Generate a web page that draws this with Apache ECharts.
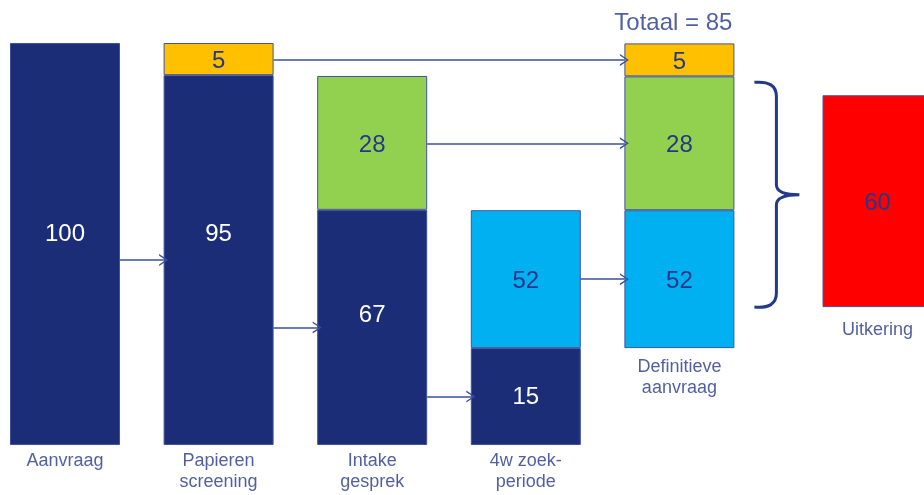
<!DOCTYPE html>
<html>
<head>
<meta charset="utf-8">
<script src="https://cdn.jsdelivr.net/npm/echarts@6/dist/echarts.min.js"></script>
<style>
  html, body { margin: 0; padding: 0; background: #fff; }
  #main { width: 924px; height: 495px; }
</style>
</head>
<body>
<div id="main"></div>
<script>
// kolommen: de eerste vijf staan op gelijke afstand, Uitkering staat apart
var categories = ['Aanvraag', 'Papieren\nscreening', 'Intake\ngesprek', '4w zoek-\nperiode', 'Definitieve\naanvraag', 'Uitkering'];
var slots = [0, 1, 2, 3, 4, 5.29];

// getallen in de blokken
var darkCounts   = [100, 95, 67, 15, null, null];
var lightCounts  = [null, null, null, 52, 52, null];
var greenCounts  = [null, null, 28, null, 28, null];
var orangeCounts = [null, 5, null, null, 5, null];
var redCounts    = [null, null, null, null, null, 60];

// hoogtes zoals getekend (volle kolom = 100)
var baseH   = [0, 0, 0, 0, 24.1, 34.3];
var darkH   = [100, 92, 58.5, 24.1, 0, 0];
var lightH  = [0, 0, 0, 34.3, 34.3, 0];
var greenH  = [0, 0, 33.3, 0, 33.3, 0];
var orangeH = [0, 8, 0, 0, 8.2, 0];
var redH    = [0, 0, 0, 0, 0, 52.7];

// label verschuiving (px) waar het getal niet in het midden staat
var darkLabelShift = [-10, -26, -12, 1, 0, 0];
var nameGap = [6, 6, 6, 6, 8, 12];

var textBlue = '#26378a';
var lineBlue = '#3a4f9c';
var font = 'Liberation Sans, Arial, sans-serif';
var step = 153.6;          // px tussen kolommen
var halfBar = 55 / step;   // halve kolombreedte in slot-eenheden

function segData(h, counts, shift, from, to) {
    var out = [];
    for (var i = from; i < to; i++) {
        var item = { value: h[i] > 0 ? h[i] : '-', count: counts ? counts[i] : null };
        if (shift && shift[i]) item.label = { offset: [0, shift[i]] };
        out.push(item);
    }
    return out;
}

var seriesList = [];
function addSeg(name, h, counts, color, txt, shift) {
    [[0, 5], [5, 6]].forEach(function (part, g) {
        var any = h.slice(part[0], part[1]).some(function (v) { return v > 0; });
        if (!any) return;
        seriesList.push({
            name: name,
            type: 'bar',
            stack: 'kolom' + g,
            xAxisIndex: g,
            yAxisIndex: g,
            barWidth: 110,
            clip: false,
            silent: true,
            data: segData(h, counts, shift, part[0], part[1]),
            itemStyle: color ? { color: color, borderColor: '#40529a', borderWidth: 1 } : { color: 'rgba(0,0,0,0)' },
            label: {
                show: !!color,
                position: 'inside',
                offset: [0, 2],
                color: txt,
                fontSize: 24,
                fontFamily: font,
                formatter: function (p) { return p.data.count == null ? '' : p.data.count; }
            }
        });
    });
}

addSeg('basis', baseH, null, null);
addSeg('donker', darkH, darkCounts, '#1c2d78', '#ffffff', darkLabelShift);
addSeg('lichtblauw', lightH, lightCounts, '#00b0f0', textBlue);
addSeg('groen', greenH, greenCounts, '#92d050', textBlue);
addSeg('oranje', orangeH, orangeCounts, '#ffc000', textBlue);
addSeg('rood', redH, redCounts, '#ff0000', textBlue);

function colTop(i) {
    return baseH[i] + darkH[i] + lightH[i] + greenH[i] + orangeH[i] + redH[i];
}

// midden van een segment, voor de pijlen
function segMid(i, seg) {
    var lo = baseH[i], parts = [['dark', darkH], ['light', lightH], ['green', greenH], ['orange', orangeH], ['red', redH]];
    for (var k = 0; k < parts.length; k++) {
        if (parts[k][0] === seg) return lo + parts[k][1][i] / 2;
        lo += parts[k][1][i];
    }
}

var arrows = [[0, 1, 'dark'], [1, 4, 'orange'], [1, 2, 'dark'], [2, 4, 'green'], [2, 3, 'dark'], [3, 4, 'light']];
var arrowData = arrows.map(function (a) {
    var y = segMid(a[1], a[2]);
    return [{ coord: [slots[a[0]] + halfBar, y] }, { coord: [slots[a[1]] - halfBar, y] }];
});

var total = lightCounts[4] + greenCounts[4] + orangeCounts[4];

// namen onder de kolommen, pijlen
seriesList.push({
    name: 'namen', type: 'scatter', symbolSize: 0, clip: false, silent: true,
    xAxisIndex: 2, yAxisIndex: 0,
    data: slots.map(function (s, i) {
        return { value: [s, baseH[i]], label: { distance: nameGap[i] } };
    }),
    label: {
        show: true, position: 'bottom',
        color: textBlue, fontSize: 18, lineHeight: 21, fontFamily: font,
        formatter: function (p) { return categories[p.dataIndex]; }
    },
    markLine: {
        silent: true,
        symbol: ['none', 'path://M0,10 L5,0 L10,10 L8.6,10 L5,2.6 L1.4,10 Z'],
        symbolSize: [12, 9],
        label: { show: false },
        lineStyle: { color: lineBlue, width: 1.5, type: 'solid' },
        data: arrowData
    }
});

seriesList.push({
    name: 'totaal', type: 'scatter', symbolSize: 0, clip: false, silent: true,
    xAxisIndex: 2, yAxisIndex: 0,
    data: [[slots[4], colTop(4)]],
    label: {
        show: true, position: 'top', distance: 8, offset: [-6, 0],
        color: textBlue, fontSize: 24, fontFamily: font,
        formatter: 'Totaal = ' + total
    }
});

// accolade tussen definitieve aanvraag en uitkering
seriesList.push({
    name: 'accolade', type: 'custom', silent: true,
    xAxisIndex: 2, yAxisIndex: 0,
    data: [[slots[4], 0]],
    renderItem: function (params, api) {
        var edge = api.coord([slots[4] + halfBar, 0])[0];
        var yTop = api.coord([0, colTop(4) - orangeH[4]])[1] + 6;
        var yBot = api.coord([0, baseH[5]])[1];
        var yMid = (yTop + yBot) / 2;
        var xl = edge + 20, xv = edge + 42, xt = edge + 65;
        var d = 'M' + xl + ',' + yTop + ' Q' + xv + ',' + (yTop - 2) + ' ' + xv + ',' + (yTop + 14) +
            ' L' + xv + ',' + (yMid - 10) + ' Q' + xv + ',' + yMid + ' ' + xt + ',' + yMid +
            ' Q' + xv + ',' + yMid + ' ' + xv + ',' + (yMid + 10) +
            ' L' + xv + ',' + (yBot - 14) + ' Q' + xv + ',' + (yBot + 2) + ' ' + xl + ',' + yBot;
        return {
            type: 'path',
            shape: { pathData: d },
            style: { fill: null, stroke: '#233a8c', lineWidth: 3 }
        };
    }
});

var firstX = 65;
var option = {
    backgroundColor: '#fff',
    animation: false,
    grid: [
        { left: firstX, width: 4 * step, top: 43, bottom: 50 },
        // kolom Uitkering staat op de linkerrand van dit grid
        { left: firstX + slots[5] * step, width: 100, top: 43, bottom: 50 }
    ],
    xAxis: [
        { gridIndex: 0, type: 'category', data: categories.slice(0, 5), boundaryGap: false, show: false },
        { gridIndex: 1, type: 'category', data: categories.slice(5).concat(['']), boundaryGap: false, show: false },
        { gridIndex: 0, type: 'value', min: 0, max: 4, show: false }
    ],
    yAxis: [
        { gridIndex: 0, type: 'value', min: 0, max: 100, show: false },
        { gridIndex: 1, type: 'value', min: 0, max: 100, show: false }
    ],
    series: seriesList
};

var myChart = echarts.init(document.getElementById('main'));
myChart.setOption(option);
</script>
</body>
</html>
